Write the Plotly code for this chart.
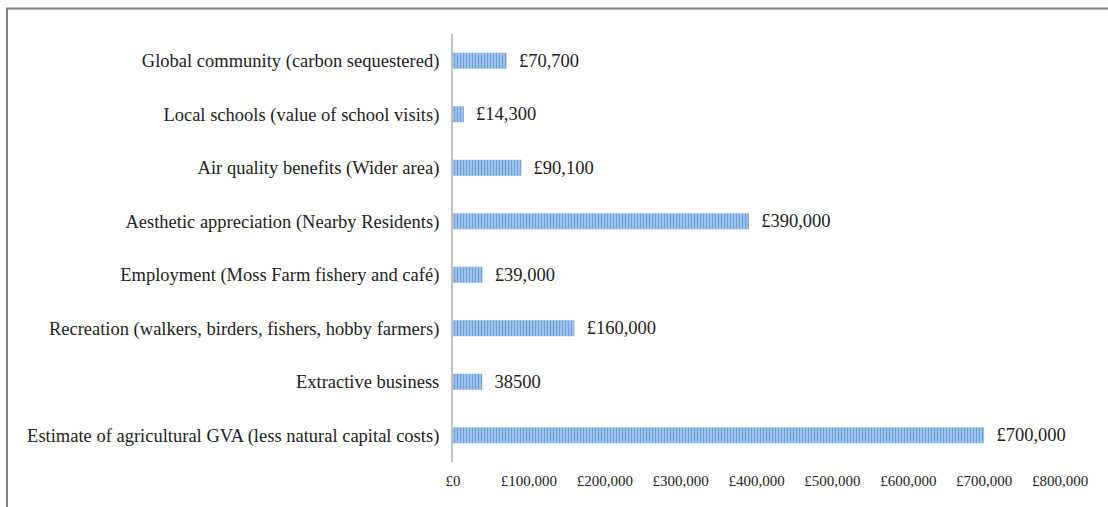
import plotly.graph_objects as go

categories = [
    "Estimate of agricultural GVA (less natural capital costs)",
    "Extractive business",
    "Recreation (walkers, birders, fishers, hobby farmers)",
    "Employment (Moss Farm fishery and café)",
    "Aesthetic appreciation (Nearby Residents)",
    "Air quality benefits (Wider area)",
    "Local schools (value of school visits)",
    "Global community (carbon sequestered)",
]
values = [700000, 38500, 160000, 39000, 390000, 90100, 14300, 70700]
value_labels = ["£700,000", "38500", "£160,000", "£39,000", "£390,000", "£90,100", "£14,300", "£70,700"]
tick_values = [0, 100000, 200000, 300000, 400000, 500000, 600000, 700000, 800000]
tick_labels = ["£0", "£100,000", "£200,000", "£300,000", "£400,000", "£500,000", "£600,000", "£700,000", "£800,000"]

SERIF = "Times New Roman, Liberation Serif, serif"
W, H = 1108, 507
ML, MR, MT, MB = 453, 48, 34, 45

fig = go.Figure(
    go.Bar(
        x=values,
        y=categories,
        orientation="h",
        width=0.3,
        text=value_labels,
        texttemplate="  %{text}",
        textposition="outside",
        constraintext="none",
        cliponaxis=False,
        textfont=dict(family=SERIF, size=18.5, color="#222222"),
        marker=dict(
            color="#9cc2e8",
            line=dict(width=0),
            pattern=dict(shape="|", fgcolor="#3f80cc", bgcolor="#9fc4e8", size=3, solidity=0.4),
        ),
        hoverinfo="skip",
    )
)

pw = W - ML - MR
ph = H - MT - MB
fig.add_shape(
    type="rect", xref="paper", yref="paper",
    x0=(7 - ML) / pw, x1=(W + 20 - ML) / pw,
    y0=-(H + 20 - MT - ph) / ph, y1=1 + (MT - 8.5) / ph,
    line=dict(color="#7f7f7f", width=2), fillcolor="rgba(0,0,0,0)", layer="below",
)

fig.update_layout(
    width=W, height=H,
    margin=dict(l=ML, r=MR, t=MT, b=MB),
    paper_bgcolor="white", plot_bgcolor="white",
    showlegend=False,
    bargap=0.7,
    xaxis=dict(
        range=[0, 800000],
        tickvals=tick_values,
        ticktext=tick_labels,
        showgrid=False,
        zeroline=False,
        showline=False,
        ticks="outside", ticklen=5, tickcolor="white",
        tickfont=dict(family=SERIF, size=15, color="#222222"),
    ),
    yaxis=dict(
        showgrid=False,
        showline=True, linecolor="#bfbfbf", linewidth=2,
        ticks="outside", ticklen=8, tickcolor="white",
        tickfont=dict(family=SERIF, size=18.5, color="#222222"),
    ),
)

fig.write_html("out.html")
